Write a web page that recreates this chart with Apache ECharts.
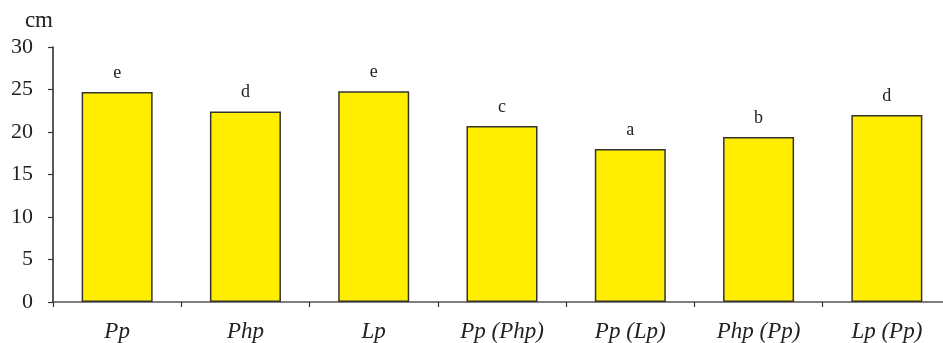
<!DOCTYPE html>
<html>
<head>
<meta charset="utf-8">
<script src="https://cdn.jsdelivr.net/npm/echarts@6/dist/echarts.min.js"></script>
<style>
html,body{margin:0;padding:0;background:#fff;overflow:hidden;}
#chart{width:951px;height:343px;}
</style>
</head>
<body>
<div id="chart"></div>
<script>
const categories = ['Pp', 'Php', 'Lp', 'Pp (Php)', 'Pp (Lp)', 'Php (Pp)', 'Lp (Pp)'];
const heights = [24.7, 22.4, 24.8, 20.7, 18.0, 19.4, 22.0];
const letters = ['e', 'd', 'e', 'c', 'a', 'b', 'd'];
const yTicks = [0, 5, 10, 15, 20, 25, 30];

const chart = echarts.init(document.getElementById('chart'));
const serif = '"Liberation Serif", "DejaVu Serif", serif';
chart.setOption({
  animation: false,
  grid: { left: 53, top: 47, bottom: 41, right: 0 },
  xAxis: {
    type: 'category',
    data: categories,
    axisLine: { lineStyle: { color: '#555', width: 1.5 } },
    axisTick: { show: true, length: 5, lineStyle: { color: '#333', width: 1.2 } },
    axisLabel: { fontFamily: serif, fontStyle: 'italic', fontSize: 23, color: '#222', margin: 18, interval: 0 }
  },
  yAxis: {
    type: 'value',
    min: yTicks[0],
    max: yTicks[yTicks.length - 1],
    interval: 5,
    name: 'cm',
    nameLocation: 'end',
    nameGap: 26,
    nameTextStyle: { fontFamily: serif, fontSize: 23, color: '#222', align: 'right', verticalAlign: 'middle' },
    splitLine: { show: false },
    axisLine: { show: true, lineStyle: { color: '#222', width: 1.5 } },
    axisTick: { show: true, length: 5, lineStyle: { color: '#333', width: 1.2 } },
    axisLabel: { fontFamily: serif, fontSize: 22, color: '#222', margin: 20 }
  },
  series: [{
    type: 'bar',
    data: heights.map((v, i) => ({ value: v, label: { formatter: letters[i] } })),
    barWidth: 71,
    itemStyle: { color: '#FFEE00', borderColor: '#333', borderWidth: 1.5 },
    label: { show: true, position: 'top', distance: 10, fontFamily: serif, fontSize: 18, color: '#222' }
  }]
});
</script>
</body>
</html>
